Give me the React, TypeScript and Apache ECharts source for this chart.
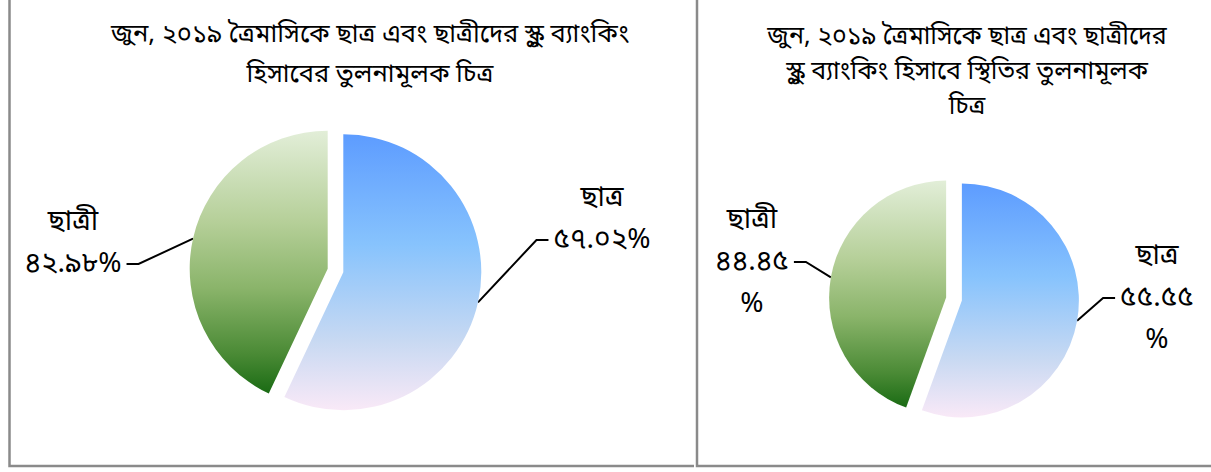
import React, { useEffect, useRef } from "react";
import * as echarts from "echarts";

const categories = ["ছাত্র", "ছাত্রী"];
const chart1Values = [57.02, 42.98];
const chart2Values = [55.55, 44.45];
const title1Lines = [
  "জুন, ২০১৯ ত্রৈমাসিকে ছাত্র এবং ছাত্রীদের স্কুল ব্যাংকিং",
  "হিসাবের তুলনামূলক চিত্র",
];
const title2Lines = [
  "জুন, ২০১৯ ত্রৈমাসিকে ছাত্র এবং ছাত্রীদের",
  "স্কুল ব্যাংকিং হিসাবে স্থিতির তুলনামূলক",
  "চিত্র",
];

const FONT = "'Noto Sans Bengali', 'Lohit Bengali', 'Vrinda', 'Noto Sans', 'DejaVu Sans', sans-serif";
const BN_DIGITS = "০১২৩৪৫৬৭৮৯";
const toBn = (s: string) => s.replace(/[0-9]/g, (d) => BN_DIGITS[Number(d)]);

const makeBlue = () =>
  new echarts.graphic.LinearGradient(0, 0, 0, 1, [
    { offset: 0, color: "#5d9cff" },
    { offset: 0.4, color: "#87c3fd" },
    { offset: 0.75, color: "#c8d9f2" },
    { offset: 1, color: "#f9e9f7" },
  ]);
const makeGreen = () =>
  new echarts.graphic.LinearGradient(0, 0, 0, 1, [
    { offset: 0, color: "#e2eed8" },
    { offset: 0.35, color: "#b5cf98" },
    { offset: 0.6, color: "#8ab46a" },
    { offset: 0.85, color: "#4a8a35" },
    { offset: 1, color: "#1a6b14" },
  ]);

// layout (positions only)
const PIE1 = { center: [335.5, 270.5], radius: 138, explode: 8 };
const PIE2 = { center: [954, 299], radius: 117, explode: 8 };
const LABEL_POS = [
  [
    [602, 240],
    [73, 264],
  ],
  [
    [1157, 298],
    [752, 262],
  ],
];

function makeSeries(values: number[], pie: any, chartIdx: number, wrapPct: boolean) {
  const total = values.reduce((a, b) => a + b, 0);
  let acc = 0;
  const out: any[] = [];
  values.forEach((v, i) => {
    const midFrac = (acc + v / 2) / total;
    acc += v;
    const theta = ((-90 + midFrac * 360) * Math.PI) / 180;
    const center = [
      pie.center[0] + Math.cos(theta) * pie.explode,
      pie.center[1] + Math.sin(theta) * pie.explode,
    ];
    out.push({
      type: "pie",
      name: `${chartIdx}-${categories[i]}`,
      center,
      radius: pie.radius,
      startAngle: 90,
      clockwise: true,
      avoidLabelOverlap: false,
      emphasis: { disabled: true },
      data: values.map((vv, j) => ({
        name: categories[j],
        value: vv,
        itemStyle: {
          color: j !== i ? "rgba(0,0,0,0)" : j === 0 ? makeBlue() : makeGreen(),
        },
        label: { show: j === i },
        labelLine: { show: j === i },
      })),
      label: {
        position: "outside",
        color: "#000",
        fontFamily: FONT,
        fontSize: 28,
        lineHeight: 42,
        align: "center",
        padding: [0, 5],
        backgroundColor: "rgba(255,255,255,0)",
        formatter: (p: any) => {
          const pct = toBn(p.value.toFixed(2));
          if (wrapPct) return `${p.name}\n${pct}\n%`;
          return `${p.name}\n${pct}%\n`;
        },
      },
      labelLine: {
        length: 20,
        length2: 12,
        smooth: false,
        minTurnAngle: 0,
        lineStyle: { color: "#000", width: 2 },
      },
      labelLayout: (params: any) => {
        if (params.dataIndex !== i) return {};
        const pos = LABEL_POS[chartIdx][i];
        return { x: pos[0], y: pos[1], align: "center", verticalAlign: "middle" };
      },
    });
  });
  return out;
}

export default function App() {
  const ref = useRef<HTMLDivElement>(null);
  useEffect(() => {
    if (!ref.current) return;
    const chart = echarts.init(ref.current, undefined, { renderer: "svg" });
    const borderStyle = { stroke: "#8a8a8a", lineWidth: 2.5 };
    chart.setOption({
      animation: false,
      backgroundColor: "#fff",
      graphic: [
        {
          type: "polyline",
          shape: { points: [[9.5, -5], [9.5, 466], [694, 466]] },
          style: borderStyle,
          silent: true,
        },
        {
          type: "polyline",
          shape: { points: [[697, -5], [697, 466], [1216, 466]] },
          style: borderStyle,
          silent: true,
        },
        {
          type: "text",
          x: 370,
          y: 15,
          style: {
            text: title1Lines.join("\n"),
            font: `25.5px ${FONT}`,
            lineHeight: 40,
            textAlign: "center",
            textVerticalAlign: "top",
            fill: "#000",
          },
        },
        {
          type: "text",
          x: 967,
          y: 20,
          style: {
            text: title2Lines.join("\n"),
            font: `25px ${FONT}`,
            lineHeight: 35,
            textAlign: "center",
            textVerticalAlign: "top",
            fill: "#000",
          },
        },
      ],
      series: [
        ...makeSeries(chart1Values, PIE1, 0, false),
        ...makeSeries(chart2Values, PIE2, 1, true),
      ],
    });
    return () => chart.dispose();
  }, []);
  return (
    <div
      ref={ref}
      style={{ position: "absolute", left: 0, top: 0, width: 1211, height: 472 }}
    />
  );
}
